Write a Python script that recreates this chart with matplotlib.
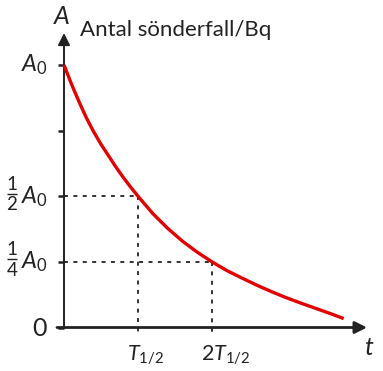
import matplotlib
matplotlib.use('Agg')
import matplotlib.pyplot as plt

plt.rcParams['font.family'] = ['Lato', 'DejaVu Sans']
plt.rcParams['mathtext.fontset'] = 'custom'
plt.rcParams['mathtext.rm'] = 'Lato'
plt.rcParams['mathtext.it'] = 'Lato:italic'

# curve: t in half-lives, A in units of A0
t_vals = [0.0, 0.1, 0.2, 0.3, 0.4, 0.5, 0.6, 0.7, 0.8, 0.9, 1.0, 1.2, 1.4, 1.6, 1.8,
          2.0, 2.2, 2.4, 2.6, 2.8, 3.0, 3.2, 3.4, 3.6, 3.78]
a_vals = [1.0, 0.928, 0.862, 0.800, 0.746, 0.698, 0.655, 0.612, 0.572, 0.535, 0.5,
          0.434, 0.378, 0.329, 0.287, 0.25, 0.217, 0.189, 0.162, 0.137, 0.114,
          0.093, 0.073, 0.053, 0.034]

y_ticks = [0.0, 0.25, 0.5, 0.75, 1.0]
y_fracs = [None, ('1', '4'), ('1', '2'), None, None]
y_labels = ['0', r'$A_0$', r'$A_0$', '', r'$A_0$']
x_marks = [1.0, 2.0]
x_labels = [r'$T_{1/2}$', r'$2T_{1/2}$']
y_title = 'Antal sönderfall/Bq'

INK = '#222222'
# pixel -> data scale (74 px per half-life, 262.5 px per A0)
PX = 1 / 74
PY = 1 / 262.5

fig = plt.figure(figsize=(3.83, 3.71), dpi=100)
ax = fig.add_axes([64 / 383, 43.5 / 371, 310 / 383, 300 / 371])
ax.set_xlim(0, 310 * PX)
ax.set_ylim(0, 300 * PY)
ax.axis('off')

# axes with arrows
ax.annotate('', xy=(303 * PX, 0), xytext=(-7 * PX, 0),
            arrowprops=dict(arrowstyle='-|>', color=INK, lw=2.0,
                            mutation_scale=18, shrinkA=0, shrinkB=0),
            annotation_clip=False)
ax.annotate('', xy=(0, 294.5 * PY), xytext=(0, 0),
            arrowprops=dict(arrowstyle='-|>', color=INK, lw=1.4,
                            mutation_scale=18, shrinkA=0, shrinkB=0),
            annotation_clip=False)

# y ticks and labels
for yv, frac, lab in zip(y_ticks, y_fracs, y_labels):
    ax.plot([-6 * PX, 0], [yv, yv], color=INK, lw=1.8, clip_on=False,
            solid_capstyle='butt')
    if lab == '0':
        ax.text(-17 * PX, yv - 1 * PY, lab, ha='right', va='center',
                fontsize=18, color=INK)
    elif lab:
        ax.text(-43 * PX, yv, lab, ha='left', va='center',
                fontsize=17, color=INK)
    if frac:
        ax.text(-52 * PX, yv + 12 * PY, frac[0], ha='center', va='center',
                fontsize=13.5, color=INK)
        ax.plot([-57 * PX, -47 * PX], [yv + 2.5 * PY] * 2, color=INK, lw=1.0,
                clip_on=False, solid_capstyle='butt')
        ax.text(-52 * PX, yv - 8.5 * PY, frac[1], ha='center', va='center',
                fontsize=13.5, color=INK)

# dotted guide lines
for xv, lab in zip(x_marks, x_labels):
    yv = 2 ** (-xv)
    ax.plot([0, xv], [yv, yv], color='#222222', lw=1.3, ls=(0, (2.2, 3)),
            clip_on=False)
    ax.plot([xv, xv], [yv, -5 * PY], color='#222222', lw=1.3, ls=(0, (2.2, 3)),
            clip_on=False)
    ax.text(xv - 11 * PX, -16 * PY, lab, ha='left', va='top',
            fontsize=15.5, color=INK)

# decay curve
ax.plot(t_vals, a_vals, color='#e30000', lw=2.4, solid_capstyle='butt',
        solid_joinstyle='round', clip_on=False, zorder=3)

# axis titles
ax.text(-2 * PX, 310.5 * PY, r'$A$', ha='center', va='center',
        fontsize=18, color=INK)
ax.text(16 * PX, 297 * PY, y_title, ha='left', va='center',
        fontsize=16, color=INK)
ax.text(305 * PX, -20 * PY, r'$t$', ha='center', va='center',
        fontsize=18, color=INK)

fig.savefig('out.png', dpi=100)
